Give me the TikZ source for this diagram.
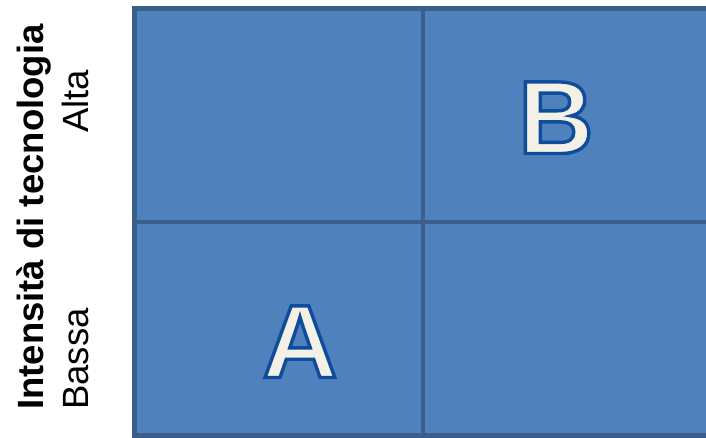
\documentclass[tikz,border=0pt]{standalone}
\usepackage{fontspec}
\setmainfont{Liberation Sans}
\usepackage{xcolor}
\usetikzlibrary{positioning}
\definecolor{cellblue}{HTML}{4F81BD}
\definecolor{cellline}{HTML}{3A5F8C}
\definecolor{lettfill}{HTML}{F3F1E5}
\definecolor{lettline}{HTML}{0F4C9C}
% lettera piena con contorno (modo di resa 2 = fill + stroke)
\newcommand{\bigletter}[1]{{\color{lettfill}\special{pdf:literal direct 2 Tr 3.4 w 0.059 0.298 0.612 RG}#1\special{pdf:literal direct 0 Tr}}}

\begin{document}
\begin{tikzpicture}[x=1pt,y=-1pt,
  cell/.style={draw=cellline,fill=cellblue,line width=4.5pt,minimum width=288.5pt,minimum height=213.5pt,inner sep=0pt},
  axislabel/.style={rotate=90,anchor=base west,inner sep=0pt,font=\fontsize{36.5}{40}\selectfont},
  quadletter/.style={anchor=base,inner sep=0pt,font=\fontsize{104}{110}\selectfont\bfseries},
]
  \useasboundingbox (0,0) rectangle (706,438);
  \clip (0,0) rectangle (706,438);

  % quadranti
  \foreach \name/\x/\y in {tl/278.75/115.25,tr/567.25/115.25,bl/278.75/328.75,br/567.25/328.75} {
    \node[cell] (q\name) at (\x,\y) {};
  }

  \node[quadletter] (lA) at (300,377.5) {\bigletter{A}};
  \node[quadletter] (lB) at (556,153.5) {\bigletter{B}};

  % asse verticale
  \node[axislabel,font=\fontsize{36.5}{40}\selectfont\bfseries] (titolo) at (43,410) {Intensità di tecnologia};
  \node[axislabel] (alta) at (88,133) {Alta};
  \node[axislabel] (bassa) at (88,410) {Bassa};
\end{tikzpicture}
\end{document}
